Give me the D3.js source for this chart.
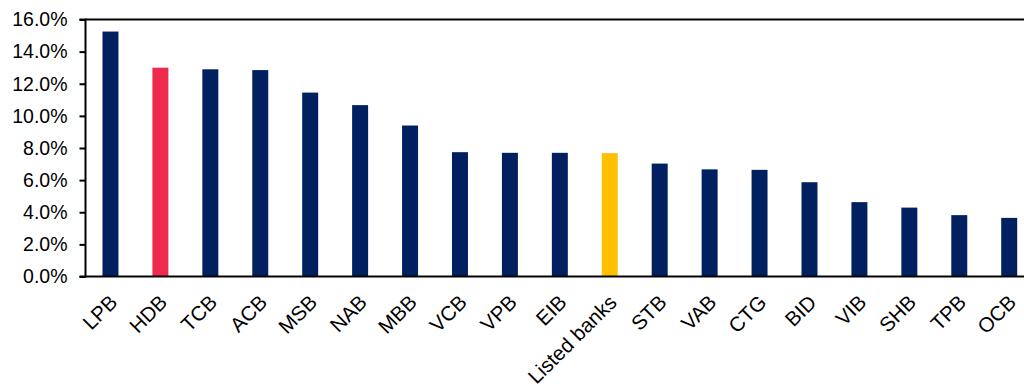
<!DOCTYPE html>
<html><head><meta charset="utf-8">
<script src="https://cdn.jsdelivr.net/npm/d3@7"></script>
<style>body{margin:0;background:#fff;overflow:hidden}svg{display:block}</style>
</head><body>
<script>
const categories = ["LPB","HDB","TCB","ACB","MSB","NAB","MBB","VCB","VPB","EIB","Listed banks","STB","VAB","CTG","BID","VIB","SHB","TPB","OCB"];
const values = [15.25,13.0,12.9,12.85,11.45,10.67,9.4,7.74,7.7,7.7,7.68,7.03,6.67,6.64,5.87,4.63,4.29,3.82,3.65];
const highlight = {"HDB":"#EE2B4C","Listed banks":"#FFC000"};
const yTicks = [0,2,4,6,8,10,12,14,16];

const W=1024,H=387;
const svg=d3.select("body").append("svg").attr("width",W).attr("height",H);
const x0=85.5, y0=276.5, yTop=19.5;
const step=49.93;
const x=d3.scaleBand().domain(categories).range([x0, x0+step*categories.length]).paddingInner(0.68).paddingOuter(0.34);
const y=d3.scaleLinear().domain([0,16]).range([y0,yTop]);

svg.append("g").selectAll("rect").data(categories).join("rect")
  .attr("x",d=>x(d)).attr("width",x.bandwidth())
  .attr("y",(d,i)=>y(values[i])).attr("height",(d,i)=>y0-y(values[i]))
  .attr("fill",d=>highlight[d]||"#002060");

// frame
svg.append("line").attr("x1",x0).attr("x2",W+5).attr("y1",yTop).attr("y2",yTop).attr("stroke","#000").attr("stroke-width",2);
svg.append("line").attr("x1",x0).attr("x2",W+5).attr("y1",y0).attr("y2",y0).attr("stroke","#000").attr("stroke-width",2);

const ya=svg.append("g").attr("transform",`translate(${x0},0)`)
  .call(d3.axisLeft(y).tickValues(yTicks).tickSize(6).tickPadding(12).tickFormat(d=>d.toFixed(1)+"%"));
ya.select(".domain").attr("stroke","#000").attr("stroke-width",2).attr("d",`M-6,${yTop}H0V${y0}H-6`);
ya.selectAll(".tick line").attr("stroke","#000").attr("stroke-width",2);
ya.selectAll("text").attr("font-family","Liberation Sans, Arial, sans-serif").attr("font-size","19.5px").attr("fill","#000");

const xa=svg.append("g");
xa.selectAll("text").data(categories).join("text")
  .attr("transform",d=>`translate(${x(d)+x.bandwidth()/2-2},${y0+17}) rotate(-45)`)
  .attr("text-anchor","end").attr("dy","0.7em")
  .attr("font-family","Liberation Sans, Arial, sans-serif").attr("font-size","20.5px").attr("fill","#000")
  .text(d=>d);
</script>
</body></html>
